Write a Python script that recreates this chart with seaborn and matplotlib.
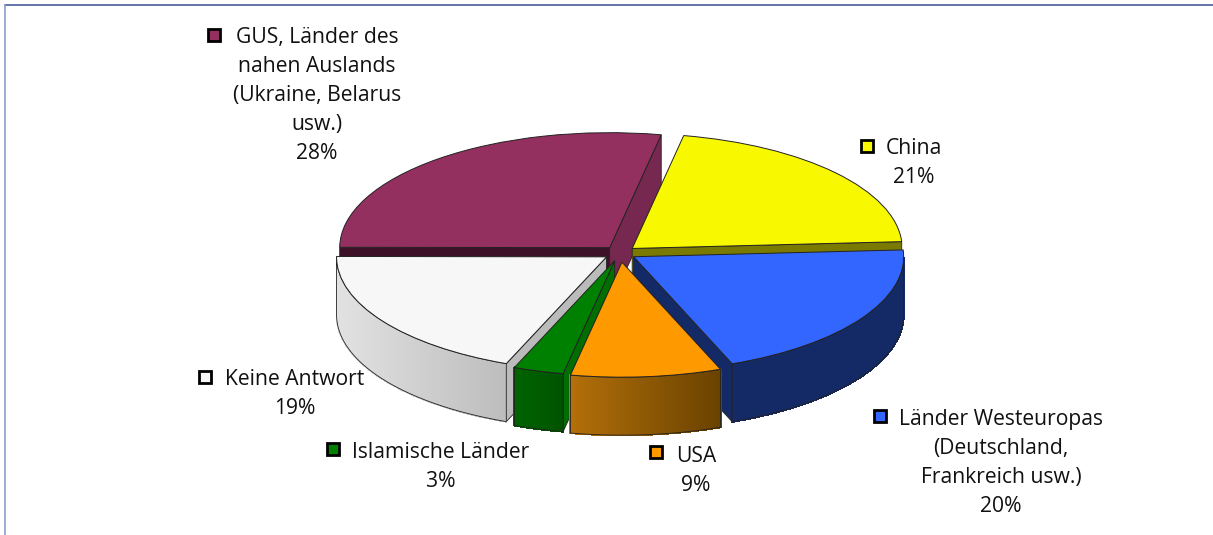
import numpy as np
import matplotlib
matplotlib.use("Agg")
import matplotlib.pyplot as plt
from matplotlib.colors import to_rgb
from matplotlib.lines import Line2D
from matplotlib.patches import Rectangle
import seaborn as sns

W, H = 1213, 535

# drawing order goes back to front, so keep the pie order separate
categories = ["China", "Länder Westeuropas\n(Deutschland,\nFrankreich usw.)", "USA",
              "Islamische Länder", "Keine Antwort",
              "GUS, Länder des\nnahen Auslands\n(Ukraine, Belarus\nusw.)"]
values = [21, 20, 9, 3, 19, 28]
explode = [0.06, 0.06, 0.08, 0.07, 0.06, 0.06]

top_colors = ["#F8F800", "#3366FF", "#FF9900", "#008000", "#F7F7F7", "#93305F"]
# face seen on the clockwise-most cut, and on the other cut
low_face = ["#7A7A00", "#142A66", "#7F4C00", "#006E00", "#BBBBBB", "#772850"]
high_face = ["#7A7A00", "#142A66", "#7F4C00", "#006E00", "#BBBBBB", "#3D1228"]
rim_left = ["#7A7A00", "#142A66", "#B4700A", "#006400", "#E2E2E2", "#772850"]
rim_right = ["#7A7A00", "#142A66", "#6A4200", "#005400", "#BDBDBD", "#772850"]
key_colors = top_colors

# (key x, key y, text x, first baseline y) in image pixels
label_pos = [(867, 146, 914, 154), (880, 416, 1001, 425), (656, 452, 696, 462),
             (333, 449, 441, 458), (205, 377, 295, 385), (214, 35, 317, 43)]
draw_order = [5, 0, 1, 4, 3, 2]

CENTER_X, CENTER_Y = 620, 253
RX, RY = 270, 115
DEPTH = 58 / RY
LINE_STEP = 29

sns.set_theme(style="white")
plt.rcParams["font.family"] = ["Open Sans", "DejaVu Sans"]

fig = plt.figure(figsize=(W / 100, H / 100), dpi=100)
ax = fig.add_axes([0, 0, 1, 1])

wedges, _ = ax.pie(values, explode=explode, startangle=79, counterclock=False,
                   colors=top_colors, wedgeprops={"edgecolor": "#222222", "linewidth": 0.7})
ax.set_aspect("auto")
ax.set_xlim(-CENTER_X / RX, (W - CENTER_X) / RX)
ax.set_ylim((CENTER_Y - H) / RY, CENTER_Y / RY)
ax.axis("off")


def draw_side(wedge, idx, z):
    cx, cy = wedge.center
    a1, a2 = wedge.theta1, wedge.theta2
    wedge.set_zorder(z + 0.5)

    # cut faces, only the ones turned to the viewer
    faces = []
    if np.cos(np.radians(a2)) < 0:
        faces.append((a2, high_face[idx]))
    if np.cos(np.radians(a1)) > 0:
        faces.append((a1, low_face[idx]))
    for ang, col in faces:
        ex = cx + np.cos(np.radians(ang))
        ey = cy + np.sin(np.radians(ang))
        ax.fill([cx, ex, ex, cx], [cy, ey, ey - DEPTH, cy - DEPTH], color=col,
                ec="#222222", lw=0.6, zorder=z)

    # outer rim, only the part turned to the viewer, shaded left to right
    angs = np.linspace(a1, a2, 120)
    angs = angs[np.sin(np.radians(angs)) <= 0]
    if len(angs) < 2:
        return
    x = cx + np.cos(np.radians(angs))
    y = cy + np.sin(np.radians(angs))
    left, right = np.array(to_rgb(rim_left[idx])), np.array(to_rgb(rim_right[idx]))
    for i in range(len(angs) - 1):
        t = (0.5 * (x[i] + x[i + 1]) - x.min()) / (x.max() - x.min())
        col = left + (right - left) * t
        ax.fill([x[i], x[i + 1], x[i + 1], x[i]],
                [y[i], y[i + 1], y[i + 1] - DEPTH, y[i] - DEPTH],
                color=col, lw=0.8, ec=col, antialiased=False, zorder=z + 0.1)
    ax.plot(np.r_[x, x[::-1], x[0]], np.r_[y, y[::-1] - DEPTH, y[0]],
            color="#222222", lw=0.6, zorder=z + 0.2)


for n, idx in enumerate(draw_order):
    draw_side(wedges[idx], idx, 2 + n)

# labels with their small colour keys
for i, cat in enumerate(categories):
    kx, ky, tx, ty = label_pos[i]
    fig.add_artist(Rectangle(((kx - 6) / W, 1 - (ky + 6) / H), 12 / W, 12 / H, transform=fig.transFigure,
                             fc=key_colors[i], ec="#000000", lw=2))
    lines = cat.split("\n") + [f"{values[i]}%"]
    for j, line in enumerate(lines):
        fig.text(tx / W, 1 - (ty + j * LINE_STEP) / H, line, ha="center", va="baseline",
                 fontsize=15.2, color="#111111")

# chart frame, only top and left fall inside the picture
fig.add_artist(Line2D([5 / W, 1], [1 - 5 / H, 1 - 5 / H], color="#4A5E9A", lw=1.2))
fig.add_artist(Line2D([5 / W, 5 / W], [0, 1 - 5 / H], color="#8C9CCB", lw=1.2))

fig.savefig("out.png", dpi=100)
plt.close(fig)
